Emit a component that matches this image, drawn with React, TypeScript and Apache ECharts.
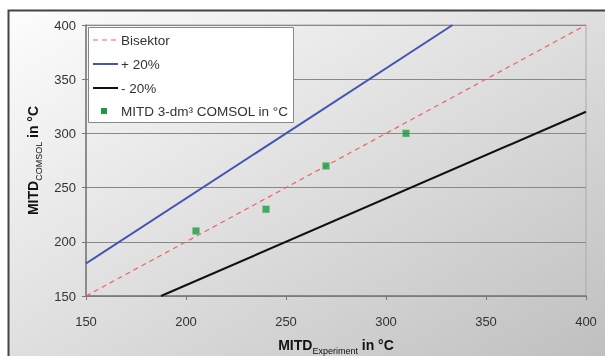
import React, { useEffect, useRef } from "react";
import * as echarts from "echarts";

const xTicks = [150, 200, 250, 300, 350, 400];
const yTicks = [150, 200, 250, 300, 350, 400];
const comsolX = [205, 240, 270, 310];
const comsolY = [210, 230, 270, 300];
const bisektor = [[150, 150], [400, 400]];
const plus20 = [[150, 180], [333.3, 400]];
const minus20 = [[187.5, 150], [400, 320]];
const seriesNames = ["Bisektor", "+ 20%", "- 20%", "MITD 3-dm³ COMSOL in °C"];
const seriesColors = ["#f26060", "#4455b0", "#111111", "#1f9a3e"];

export default function App() {
  const ref = useRef<HTMLDivElement>(null);
  useEffect(() => {
    if (!ref.current) return;
    const chart = echarts.init(ref.current, null, { renderer: "svg" });
    const font = "Liberation Sans, Arial, sans-serif";

    const legendX = 88.5;
    const legendY = 27.5;
    const rowYs = [40, 64, 88, 111];
    const legendEls: any[] = [
      {
        type: "rect",
        shape: { x: legendX, y: legendY, width: 205, height: 95 },
        style: { fill: "#fff", stroke: "#888", lineWidth: 1 },
        z: 20,
      },
    ];
    seriesNames.forEach((name, i) => {
      const cy = rowYs[i];
      if (i < 3) {
        legendEls.push({
          type: "line",
          shape: { x1: 93, y1: cy, x2: 118, y2: cy },
          style: {
            stroke: seriesColors[i],
            lineWidth: i === 0 ? 1.2 : 2,
            lineDash: i === 0 ? [5, 4] : null,
          },
          z: 21,
        });
      } else {
        legendEls.push({
          type: "rect",
          shape: { x: 101, y: cy - 3, width: 6, height: 6 },
          style: { fill: seriesColors[i] },
          z: 21,
        });
      }
      legendEls.push({
        type: "text",
        x: 121,
        y: cy,
        style: {
          text: name,
          fontFamily: font,
          fontSize: 13.5,
          fill: "#333",
          verticalAlign: "middle",
          align: "left",
        },
        z: 21,
      });
    });

    chart.setOption({
      animation: false,
      textStyle: { fontFamily: font },
      graphic: [
        {
          type: "rect",
          z: -10,
          silent: true,
          shape: { x: 8.5, y: 10.5, width: 640, height: 380 },
          style: {
            fill: new echarts.graphic.LinearGradient(0, 0, 1, 1, [
              { offset: 0, color: "#fdfdfd" },
              { offset: 0.5, color: "#dcdcdc" },
              { offset: 1, color: "#bababa" },
            ]),
            stroke: "#444",
            lineWidth: 2,
          },
        },
        ...legendEls,
      ],
      grid: {
        left: 86,
        right: 19,
        top: 25,
        bottom: 60,
        outerBoundsMode: "none",
        containLabel: false,
        show: true,
        borderColor: "#aaa",
        borderWidth: 1,
        backgroundColor: "transparent",
      },
      xAxis: {
        type: "value",
        min: xTicks[0],
        max: xTicks[xTicks.length - 1],
        interval: 50,
        name: "{b|MITD}{s|Experiment}{b| in °C}",
        nameLocation: "middle",
        nameGap: 39,
        nameTextStyle: {
          rich: {
            b: { fontFamily: font, fontSize: 14, fontWeight: "bold", color: "#111", lineHeight: 20 },
            s: { fontFamily: font, fontSize: 9, color: "#111", lineHeight: 9, verticalAlign: "bottom" },
          },
        },
        axisLine: { lineStyle: { color: "#777", width: 1.5 } },
        axisTick: { show: true, length: 4, lineStyle: { color: "#777" } },
        axisLabel: { margin: 19, fontSize: 13, color: "#333", fontFamily: font },
        splitLine: { show: false },
      },
      yAxis: {
        type: "value",
        min: yTicks[0],
        max: yTicks[yTicks.length - 1],
        interval: 50,
        name: "{b|MITD}{s|COMSOL}{b| in °C}",
        nameLocation: "middle",
        nameGap: 41,
        nameRotate: 90,
        nameTextStyle: {
          rich: {
            b: { fontFamily: font, fontSize: 14, fontWeight: "bold", color: "#111", lineHeight: 20 },
            s: { fontFamily: font, fontSize: 9, color: "#111", lineHeight: 9, verticalAlign: "bottom" },
          },
        },
        axisLine: { show: true, lineStyle: { color: "#777", width: 1.5 } },
        axisTick: { show: true, length: 4, lineStyle: { color: "#777" } },
        axisLabel: { margin: 10, fontSize: 13, color: "#333", fontFamily: font },
        splitLine: { show: true, lineStyle: { color: "#888", width: 1 } },
      },
      series: [
        {
          name: seriesNames[0],
          type: "line",
          data: bisektor,
          symbol: "none",
          lineStyle: { color: seriesColors[0], width: 1.2, type: [5, 4] },
          itemStyle: { color: seriesColors[0] },
        },
        {
          name: seriesNames[1],
          type: "line",
          data: plus20,
          symbol: "none",
          lineStyle: { color: seriesColors[1], width: 2 },
          itemStyle: { color: seriesColors[1] },
        },
        {
          name: seriesNames[2],
          type: "line",
          data: minus20,
          symbol: "none",
          lineStyle: { color: seriesColors[2], width: 2 },
          itemStyle: { color: seriesColors[2] },
        },
        {
          name: seriesNames[3],
          type: "scatter",
          data: comsolX.map((x, i) => [x, comsolY[i]]),
          symbol: "rect",
          symbolSize: 7,
          itemStyle: { color: seriesColors[3], borderColor: "#7fc98f", borderWidth: 0.5 },
          z: 5,
        },
      ],
    });
    return () => chart.dispose();
  }, []);
  return (
    <div style={{ position: "fixed", left: 0, top: 0, width: 605, height: 356 }}>
      <div ref={ref} style={{ width: 605, height: 356 }} />
    </div>
  );
}
